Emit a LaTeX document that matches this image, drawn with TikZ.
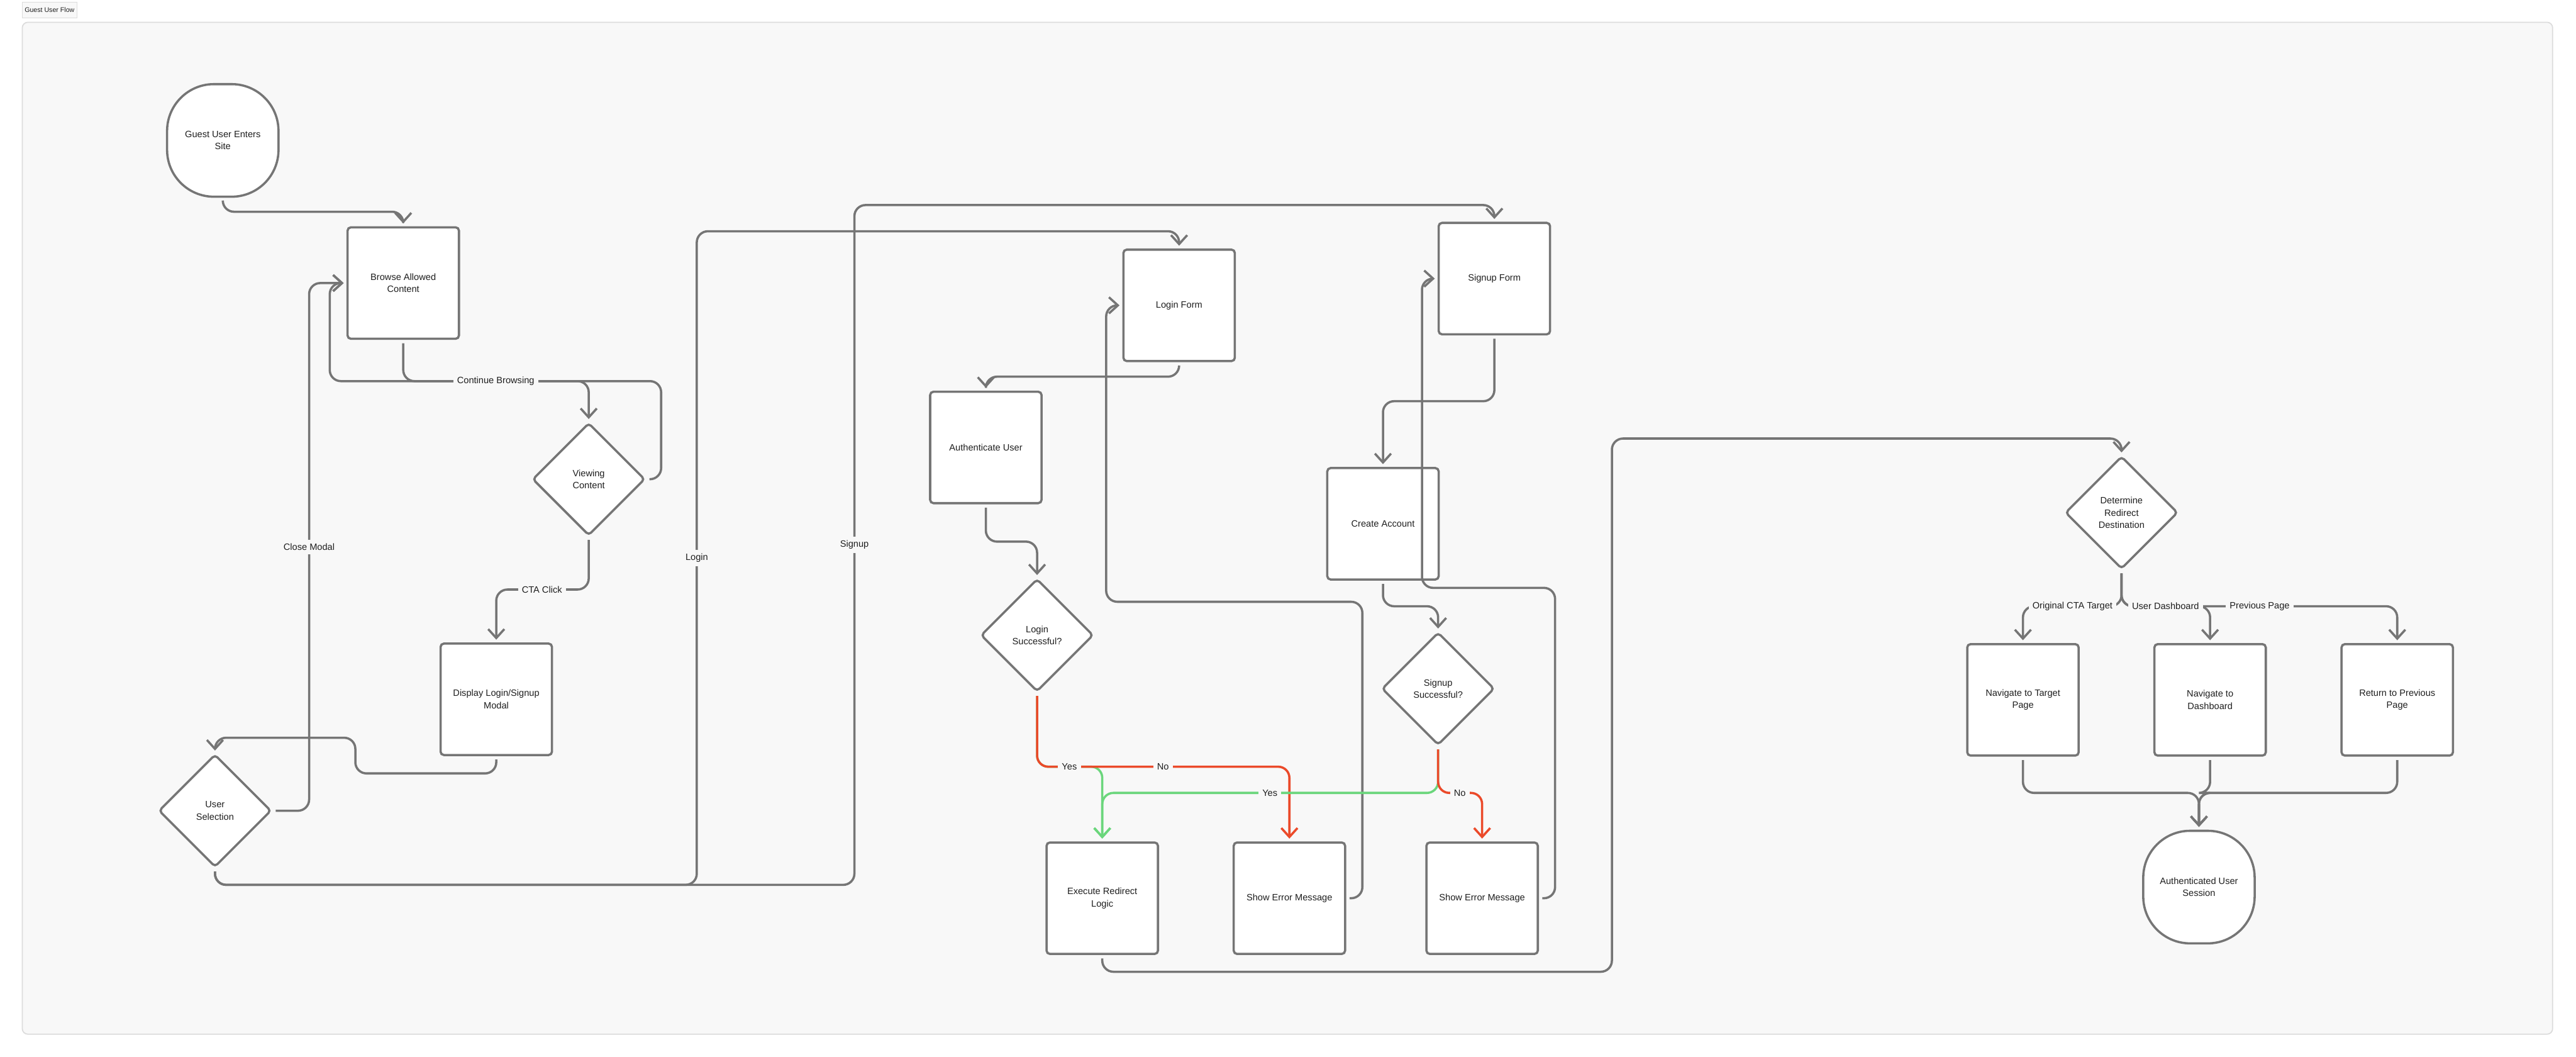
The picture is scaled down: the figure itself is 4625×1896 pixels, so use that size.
\documentclass[tikz,border=0pt]{standalone}
\usepackage{fontspec}
\setmainfont{Liberation Sans}
\usetikzlibrary{arrows.meta,shapes.geometric}
\definecolor{lineg}{HTML}{757575}
\definecolor{redl}{HTML}{EB4A2A}
\definecolor{greenl}{HTML}{6BD67C}
\definecolor{canvas}{HTML}{F8F8F8}
\definecolor{framec}{HTML}{DCDCDC}
\definecolor{txt}{HTML}{1F1F1F}
\newcommand\dfont{\fontsize{8.25pt}{11pt}\selectfont}
\begin{document}
\begin{tikzpicture}[x=0.5pt,y=-0.5pt,
  box/.style={draw=lineg, fill=white, line width=2pt, rounded corners=3pt,
    minimum width=100pt, minimum height=100pt, align=center, font=\dfont, text=txt, inner sep=2pt},
  dec/.style={diamond, draw=lineg, fill=white, line width=2pt, rounded corners=3pt,
    minimum width=101pt, minimum height=101pt, aspect=1, inner sep=0pt, align=center, font=\dfont, text=txt},
  term/.style={box, rounded corners=42pt, minimum height=101pt},
  conn/.style={draw=lineg, line width=2pt, rounded corners=10pt,
    -{Straight Barb[length=8pt,width=14.5pt]}, shorten <=3pt, shorten >=2.5pt},
  lbl/.style={fill=canvas, inner sep=3.5pt, font=\dfont, text=txt}]
\useasboundingbox (0,0) rectangle (4625,1896);
\fill[white] (0,0) rectangle (4625,1896);
% frame
\draw[fill=canvas, draw=framec, line width=1pt, rounded corners=5pt] (40,40) rectangle (4583,1856);
\node[draw=framec, fill=canvas, line width=0.4pt, minimum width=49pt, minimum height=14.5pt, inner sep=0pt,
  font=\fontsize{6pt}{7pt}\selectfont, text=txt] (title) at (89,18) {Guest User Flow};

% nodes
\node[term] (start) at (400,252) {Guest User Enters\\Site};
\node[box] (browse) at (724,508) {Browse Allowed\\Content};
\node[dec] (viewing) at (1057,860) {Viewing\\Content};
\node[box] (modal) at (891,1255) {Display Login/Signup\\Modal};
\node[dec] (usersel) at (386,1455) {User\\Selection};
\node[box] (loginform) at (2117,548) {Login Form};
\node[box] (signupform) at (2683,500) {Signup Form};
\node[box] (auth) at (1770,803) {Authenticate User};
\node[dec] (loginok) at (1862,1140) {Login\\Successful?};
\node[box] (create) at (2483,940) {Create Account};
\node[dec] (signupok) at (2582,1236) {Signup\\Successful?};
\node[box] (exec) at (1979,1612) {Execute Redirect\\Logic};
\node[box] (err1) at (2315,1612) {Show Error Message};
\node[box] (err2) at (2661,1612) {Show Error Message};
\node[dec] (determine) at (3809,920) {Determine\\Redirect\\Destination};
\node[box] (target) at (3632,1256) {Navigate to Target\\Page};
\node[box] (dash) at (3968,1256) {Navigate to\\Dashboard};
\node[box] (prev) at (4304,1256) {Return to Previous\\Page};
\node[term] (session) at (3948,1592) {Authenticated User\\Session};

% connectors
\draw[conn] (start.south) -- (start.south |- 0,380) -- (browse.north |- 0,380) -- (browse.north);
\draw[conn] (browse.south) -- (browse.south |- 0,684) -- (viewing.north |- 0,684) -- (viewing.north);
\draw[conn] (viewing.east) -- (viewing.east -| 1187,0) -- (1187,684) -- (592,684) -- (browse.west -| 592,0) -- (browse.west);
\draw[conn] (viewing.south) -- (viewing.south |- 0,1058) -- (modal.north |- 0,1058) -- (modal.north);
\draw[conn] (modal.south) -- (modal.south |- 0,1388) -- (638,1388) -- (638,1324) -- (usersel.north |- 0,1324) -- (usersel.north);
\draw[conn] (usersel.east) -- (usersel.east -| 555,0) -- (browse.west -| 555,0) -- (browse.west);
\draw[conn] (usersel.south) -- (usersel.south |- 0,1588) -- (1251,1588) -- (1251,415) -- (loginform.north |- 0,415) -- (loginform.north);
\draw[conn] (usersel.south) -- (usersel.south |- 0,1588) -- (1534,1588) -- (1534,368) -- (signupform.north |- 0,368) -- (signupform.north);
\draw[conn] (loginform.south) -- (loginform.south |- 0,676) -- (auth.north |- 0,676) -- (auth.north);
\draw[conn] (auth.south) -- (auth.south |- 0,972) -- (loginok.north |- 0,972) -- (loginok.north);
\draw[conn] (signupform.south) -- (signupform.south |- 0,720) -- (create.north |- 0,720) -- (create.north);
\draw[conn] (create.south) -- (create.south |- 0,1088) -- (signupok.north |- 0,1088) -- (signupok.north);
\draw[conn] (err1.east) -- (err1.east -| 2446,0) -- (2446,1080) -- (1986,1080) -- (loginform.west -| 1986,0) -- (loginform.west);
\draw[conn] (err2.east) -- (err2.east -| 2792,0) -- (2792,1055) -- (2553,1055) -- (signupform.west -| 2553,0) -- (signupform.west);
% decisions
\draw[conn, draw=greenl] (loginok.south) -- (loginok.south |- 0,1376) -- (exec.north |- 0,1376) -- (exec.north);
\draw[conn, draw=redl] (loginok.south) -- (loginok.south |- 0,1376) -- (err1.north |- 0,1376) -- (err1.north);
\draw[conn, draw=greenl] (signupok.south) -- (signupok.south |- 0,1423) -- (exec.north |- 0,1423) -- (exec.north);
\draw[conn, draw=redl] (signupok.south) -- (signupok.south |- 0,1423) -- (err2.north |- 0,1423) -- (err2.north);
% redirect
\draw[conn] (exec.south) -- (exec.south |- 0,1744) -- (2894,1744) -- (2894,787) -- (determine.north |- 0,787) -- (determine.north);
\draw[conn] (determine.south) -- (determine.south |- 0,1088) -- (target.north |- 0,1088) -- (target.north);
\draw[conn] (determine.south) -- (determine.south |- 0,1088) -- (dash.north |- 0,1088) -- (dash.north);
\draw[conn] (determine.south) -- (determine.south |- 0,1088) -- (prev.north |- 0,1088) -- (prev.north);
\draw[conn] (target.south) -- (target.south |- 0,1423) -- (session.north |- 0,1423) -- (session.north);
\draw[conn] (dash.south) -- (dash.south |- 0,1423) -- (session.north |- 0,1423) -- (session.north);
\draw[conn] (prev.south) -- (prev.south |- 0,1423) -- (session.north |- 0,1423) -- (session.north);

% labels
\node[lbl] (lcb) at (890,684) {Continue Browsing};
\node[lbl] (lcta) at (973,1058) {CTA Click};
\node[lbl] (lclose) at (555,982) {Close Modal};
\node[lbl] (llogin) at (1251,1001) {Login};
\node[lbl] (lsignup) at (1534,978) {Signup};
\node[lbl] (ly1) at (1920,1376) {Yes};
\node[lbl] (ln1) at (2088,1376) {No};
\node[lbl] (ly2) at (2280,1423) {Yes};
\node[lbl] (ln2) at (2621,1423) {No};
\node[lbl] (lorig) at (3721,1088) {Original CTA Target};
\node[lbl] (ldash) at (3888,1088) {User Dashboard};
\node[lbl] (lprev) at (4057,1088) {Previous Page};
\end{tikzpicture}
\end{document}
